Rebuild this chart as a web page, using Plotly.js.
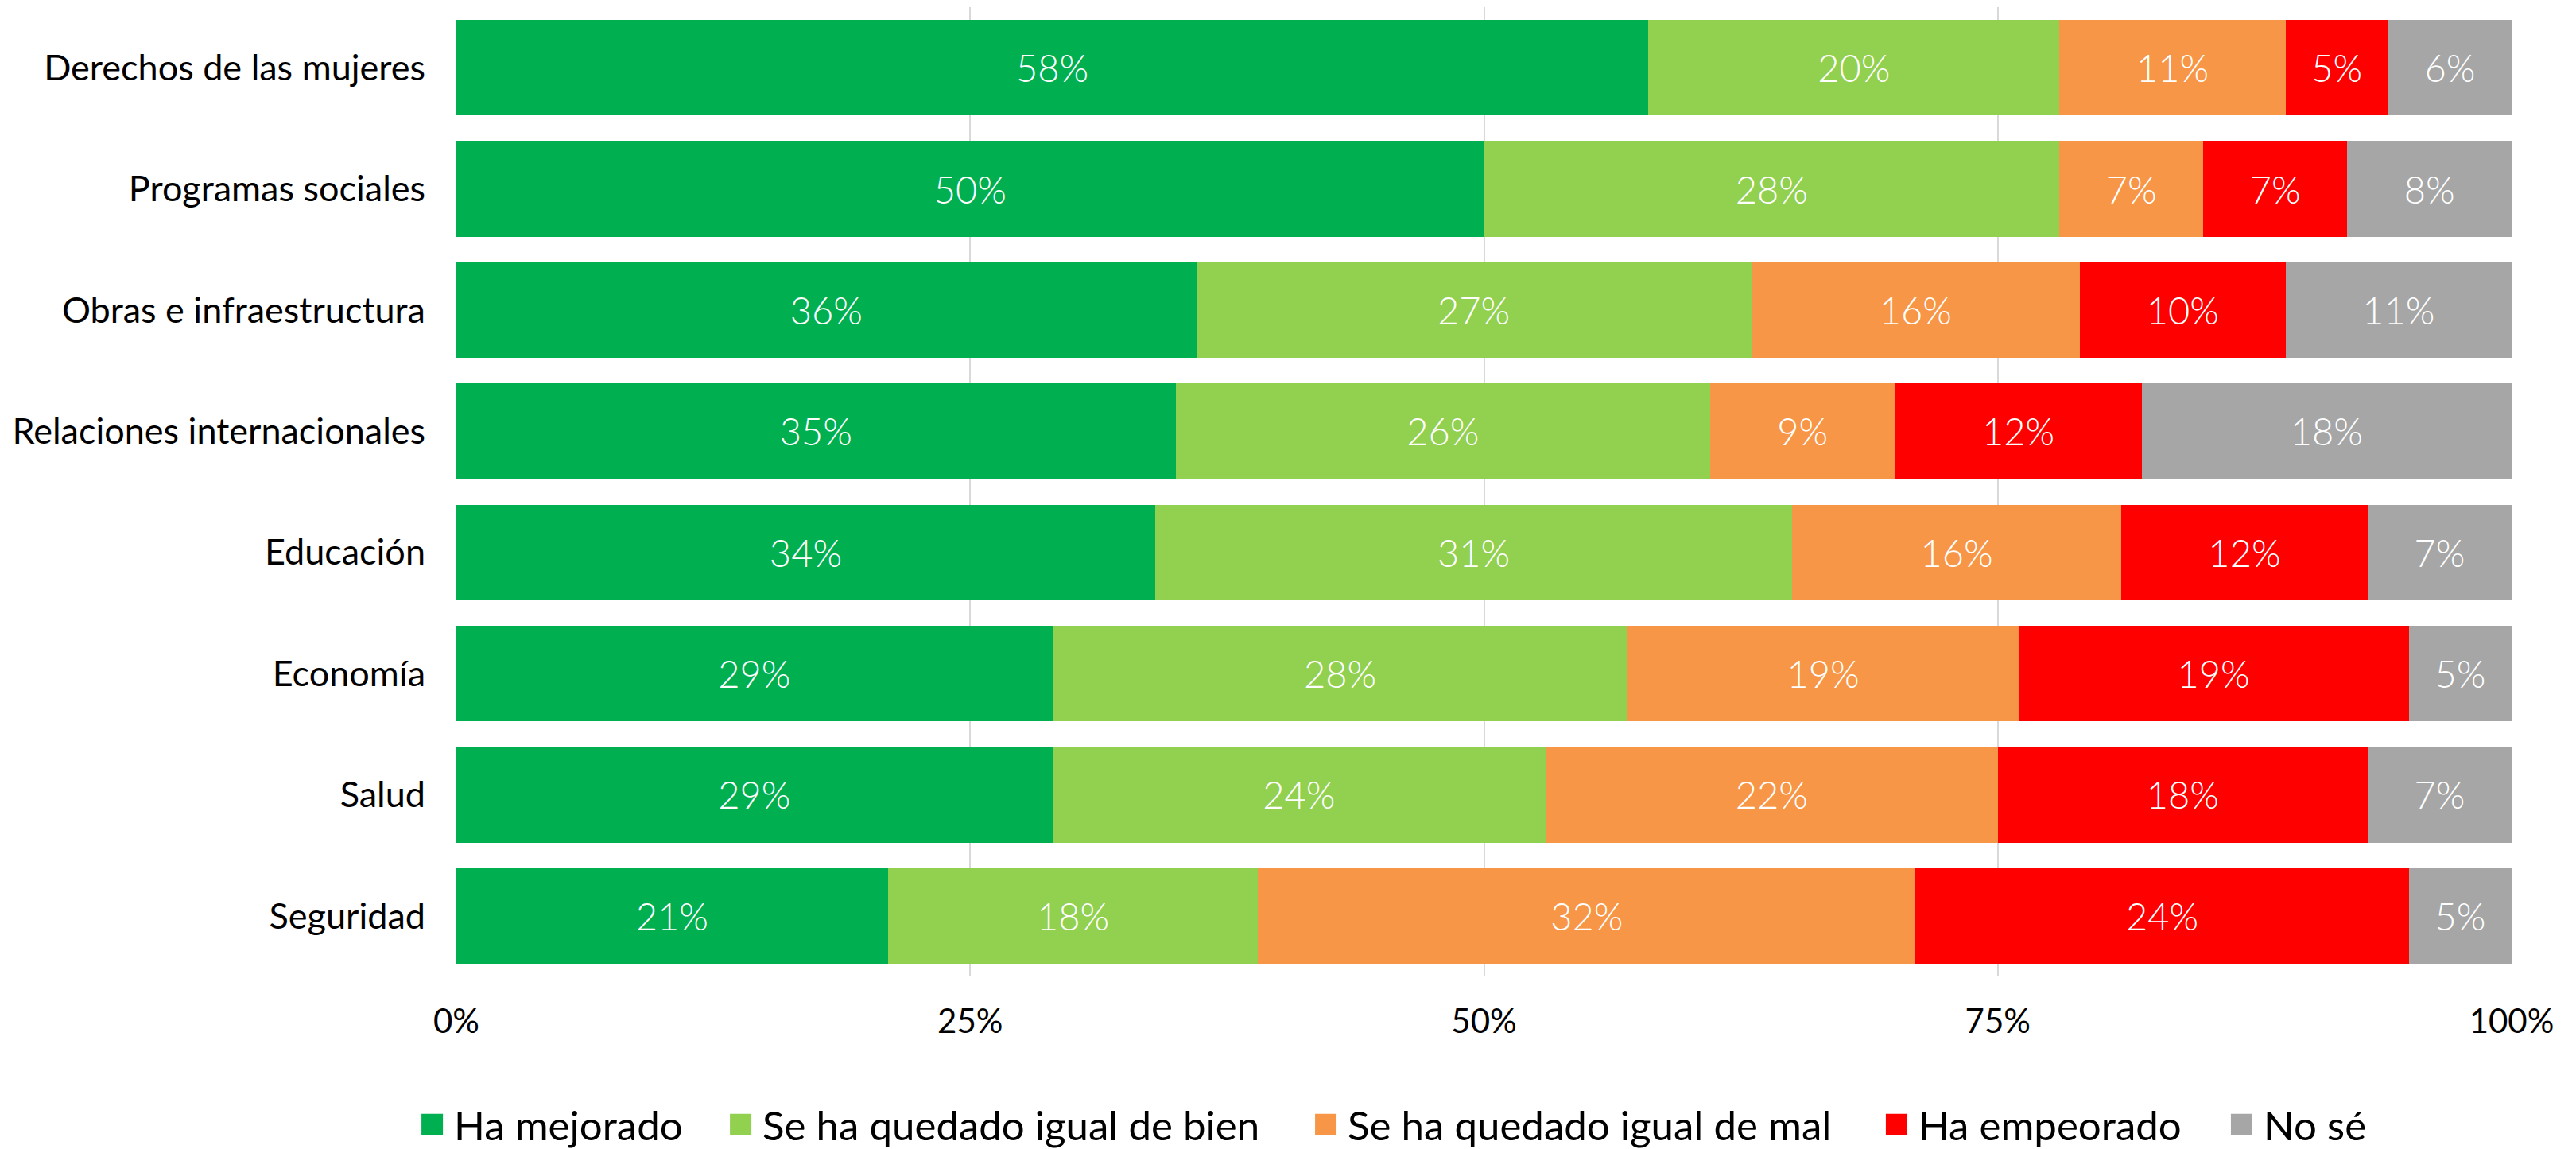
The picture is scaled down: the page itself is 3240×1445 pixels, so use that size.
<!DOCTYPE html>
<html>
<head>
<meta charset="utf-8">
<script src="https://cdn.plot.ly/plotly-3.0.1.min.js"></script>
<style>html,body{margin:0;padding:0;background:#fff;}#chart{width:3240px;height:1445px;}</style>
</head>
<body>
<div id="chart"></div>
<script>
var categories = ["Derechos de las mujeres", "Programas sociales", "Obras e infraestructura", "Relaciones internacionales", "Educación", "Economía", "Salud", "Seguridad"];
var seriesNames = ["Ha mejorado", "Se ha quedado igual de bien", "Se ha quedado igual de mal", "Ha empeorado", "No sé"];
var haMejorado = [58, 50, 36, 35, 34, 29, 29, 21];
var igualBien = [20, 28, 27, 26, 31, 28, 24, 18];
var igualMal = [11, 7, 16, 9, 16, 19, 22, 32];
var haEmpeorado = [5, 7, 10, 12, 12, 19, 18, 24];
var noSe = [6, 8, 11, 18, 7, 5, 7, 5];
var xTickVals = [0, 25, 50, 75, 100];
var xTickText = ["0%", "25%", "50%", "75%", "100%"];
var colors = ["#00B050", "#92D050", "#F79646", "#FF0000", "#A6A6A6"];

var FONT = "Lato, 'Open Sans', sans-serif";
var seriesValues = [haMejorado, igualBien, igualMal, haEmpeorado, noSe];
var legendIds = ["legend", "legend2", "legend3", "legend4", "legend5"];
var legendX = [-0.0224, 0.1277, 0.4124, 0.6901, 0.8580];

var traces = seriesValues.map(function (vals, i) {
  return {
    type: "bar",
    orientation: "h",
    name: seriesNames[i],
    legend: legendIds[i],
    y: categories,
    x: vals,
    marker: {color: colors[i], line: {width: 0}},
    text: vals.map(function (v) { return v + "%"; }),
    textposition: "inside",
    insidetextanchor: "middle",
    textangle: 0,
    constraintext: "none",
    textfont: {family: FONT, size: 47, color: "#FFFFFF", weight: 300},
    hoverinfo: "skip"
  };
});

var layout = {
  width: 3240,
  height: 1445,
  barmode: "stack",
  bargap: 0.21,
  paper_bgcolor: "#FFFFFF",
  plot_bgcolor: "#FFFFFF",
  margin: {l: 574, r: 81, t: 9, b: 217, pad: 0, autoexpand: false},
  font: {family: FONT, size: 40, color: "#000000", weight: 400},
  xaxis: {
    range: [0, 100],
    tickvals: xTickVals,
    ticktext: xTickText,
    showgrid: true,
    gridcolor: "#D9D9D9",
    gridwidth: 2,
    zeroline: false,
    showline: false,
    ticks: "",
    ticklabelstandoff: 28,
    tickfont: {family: FONT, size: 42, color: "#000000", weight: 400},
    automargin: false,
    fixedrange: true
  },
  yaxis: {
    autorange: "reversed",
    type: "category",
    showgrid: false,
    zeroline: false,
    showline: false,
    ticks: "",
    ticklabelstandoff: 38,
    tickfont: {family: FONT, size: 45, color: "#000000", weight: 400},
    automargin: false,
    fixedrange: true
  },
  showlegend: true
};

legendIds.forEach(function (id, i) {
  layout[id] = {
    orientation: "h",
    x: legendX[i],
    xanchor: "left",
    xref: "paper",
    y: -0.153,
    yanchor: "middle",
    font: {family: FONT, size: 51, color: "#000000", weight: 400},
    itemwidth: 45,
    borderwidth: 0,
    bgcolor: "rgba(0,0,0,0)"
  };
});

function enlargeSwatches(gd) {
  var paths = gd.querySelectorAll("g.legendpoints path");
  Array.prototype.forEach.call(paths, function (p) {
    var base = p.getAttribute("data-base-transform");
    if (base === null) {
      base = p.getAttribute("transform") || "";
      p.setAttribute("data-base-transform", base);
    }
    p.setAttribute("transform", base + " scale(2.25)");
  });
}

var gdDiv = document.getElementById("chart");
Plotly.newPlot(gdDiv, traces, layout, {displayModeBar: false, staticPlot: true}).then(function (gd) {
  enlargeSwatches(gd);
  gd.on("plotly_afterplot", function () { enlargeSwatches(gd); });
  setTimeout(function () { enlargeSwatches(gd); }, 0);
  setTimeout(function () { enlargeSwatches(gd); }, 200);
});
</script>
</body>
</html>
